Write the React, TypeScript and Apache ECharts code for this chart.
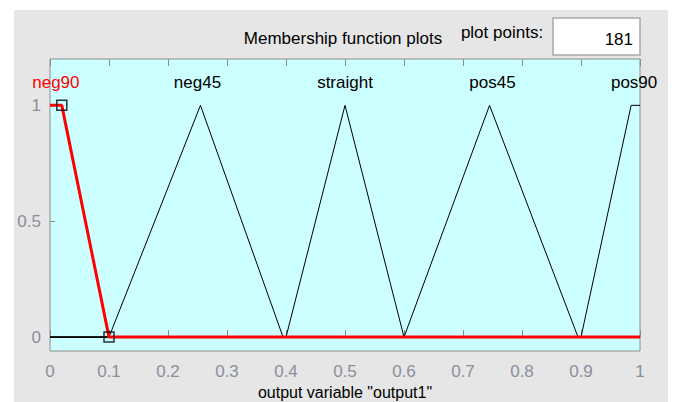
import React, { useEffect, useRef } from "react";
import * as echarts from "echarts";

const mfNames = ["neg90", "neg45", "straight", "pos45", "pos90"];
const mfLabelX = [0.01, 0.25, 0.5, 0.75, 0.99];
const mfLabelY = 1.1;
const neg90Pts = [[0, 1], [0.02, 1], [0.1, 0], [1, 0]];
const neg45Pts = [[0, 0], [0.1, 0], [0.255, 1], [0.395, 0], [1, 0]];
const straightPts = [[0, 0], [0.4, 0], [0.5, 1], [0.6, 0], [1, 0]];
const pos45Pts = [[0, 0], [0.6, 0], [0.745, 1], [0.895, 0], [1, 0]];
const pos90Pts = [[0, 0], [0.9, 0], [0.985, 1], [1, 1]];
const selectedMarkers = [[0.02, 1], [0.1, 0]];
const yTicks = [0, 0.5, 1];
const plotPoints = "181";

const FONT = '"Liberation Sans Narrow", "Liberation Sans", Arial, sans-serif';
const TICK_COLOR = "#8a8f9c";

export default function App() {
  const ref = useRef<HTMLDivElement>(null);
  useEffect(() => {
    const chart = echarts.init(ref.current!, null, { renderer: "svg" });
    const blackLine = (data: number[][]) => ({
      type: "line",
      data,
      symbol: "none",
      lineStyle: { color: "#000", width: 1 },
      z: 2,
    });
    const baseGraphic: any[] = [
      { type: "rect", shape: { x: 14, y: 10, width: 654, height: 400 }, style: { fill: "#e6e6e6" }, z: -10 },
      { type: "rect", shape: { x: 553, y: 18, width: 87, height: 37 }, style: { fill: "#ffffff", stroke: "#a8a8a8", lineWidth: 1.5 } },
      { type: "text", x: 633, y: 39, style: { text: plotPoints, font: `17px ${FONT}`, fill: "#000", align: "right", verticalAlign: "middle" } },
      { type: "text", x: 343, y: 38, style: { text: "Membership function plots", font: `17px ${FONT}`, fill: "#000", align: "center", verticalAlign: "middle" } },
      { type: "text", x: 502, y: 32, style: { text: "plot points:", font: `17px ${FONT}`, fill: "#000", align: "center", verticalAlign: "middle" } },
      { type: "text", x: 345, y: 392, style: { text: 'output variable "output1"', font: `16px ${FONT}`, fill: "#000", align: "center", verticalAlign: "middle" } },
    ];
    chart.setOption({
      animation: false,
      backgroundColor: "#ffffff",
      graphic: baseGraphic,
      grid: {
        left: 50,
        right: 36,
        top: 59,
        height: 292,
        show: true,
        backgroundColor: "#ccffff",
        borderColor: "#8c8c8c",
        borderWidth: 1,
      },
      xAxis: [
        {
          type: "value",
          min: 0,
          max: 1,
          interval: 0.1,
          axisLine: { show: false },
          axisTick: { show: true, inside: true, length: 7, lineStyle: { color: "#8c8c8c" } },
          axisLabel: { show: true, margin: 12, color: TICK_COLOR, fontFamily: FONT, fontSize: 17 },
          splitLine: { show: false },
        },
        {
          type: "value",
          position: "top",
          min: 0,
          max: 1,
          interval: 0.1,
          axisLine: { show: false },
          axisTick: { show: true, inside: true, length: 7, lineStyle: { color: "#8c8c8c" } },
          axisLabel: { show: false },
          splitLine: { show: false },
        },
      ],
      yAxis: {
        type: "value",
        min: -0.06,
        max: 1.2,
        axisLine: { show: false },
        axisTick: { show: true, inside: true, length: 5, customValues: yTicks, lineStyle: { color: "#8c8c8c" } },
        axisLabel: { show: true, margin: 9, customValues: yTicks, color: TICK_COLOR, fontFamily: FONT, fontSize: 17 },
        splitLine: { show: false },
      },
      series: [
        blackLine(neg45Pts),
        blackLine(straightPts),
        blackLine(pos45Pts),
        blackLine(pos90Pts),
        {
          type: "line",
          data: neg90Pts,
          symbol: "none",
          lineStyle: { color: "#ff0000", width: 3 },
          z: 3,
        },
        {
          type: "scatter",
          data: selectedMarkers,
          symbol: "rect",
          symbolSize: 10,
          itemStyle: { color: "rgba(0,0,0,0)", borderColor: "#000", borderWidth: 1.5 },
          z: 4,
        },
      ],
    });
    const labels = mfNames.map((name, i) => {
      const [px, py] = chart.convertToPixel({ gridIndex: 0 }, [mfLabelX[i], mfLabelY]) as number[];
      return {
        type: "text",
        x: px,
        y: py,
        z: 10,
        style: {
          text: name,
          font: `17px ${FONT}`,
          fill: i === 0 ? "#ff0000" : "#000000",
          align: "center",
          verticalAlign: "middle",
        },
      };
    });
    chart.setOption({ graphic: [...baseGraphic, ...labels] });
    return () => chart.dispose();
  }, []);
  return <div ref={ref} style={{ width: 676, height: 402, position: "absolute", left: 0, top: 0 }} />;
}
